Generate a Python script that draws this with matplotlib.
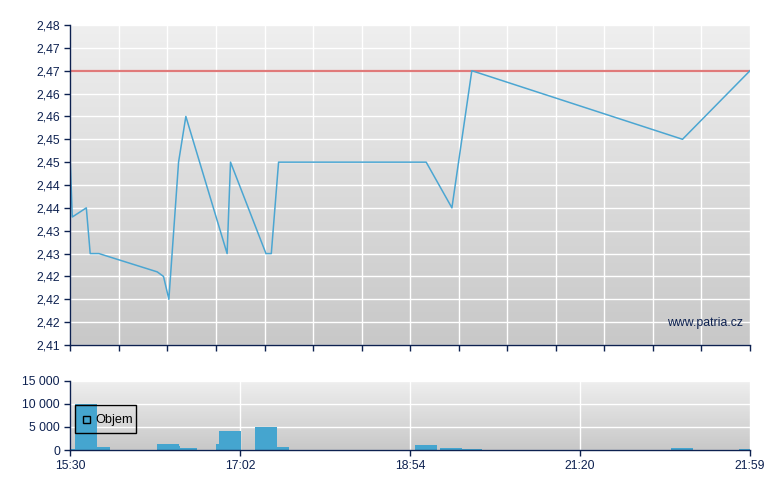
import numpy as np
import matplotlib
matplotlib.use("Agg")
import matplotlib.pyplot as plt
from matplotlib.colors import LinearSegmentedColormap
from matplotlib.patches import Rectangle

# ---- data ----
# x positions on the (trade-indexed) session axis, 0 = 15:30, 14 = 21:59
price_pos = [0.0, 0.041, 0.33, 0.41, 0.59, 1.79, 1.92, 2.03, 2.23, 2.38,
             3.23, 3.30, 4.03, 4.14, 4.29, 7.33, 7.86, 8.27, 12.61, 14.0]
price = [2.45, 2.438, 2.44, 2.43, 2.43, 2.426, 2.425, 2.42, 2.45, 2.46,
         2.43, 2.45, 2.43, 2.43, 2.45, 2.45, 2.44, 2.47, 2.455, 2.47]
prev_close = 2.47

vol_start = [0.0, 0.097, 0.544, 1.786, 2.239, 2.26, 2.997, 3.06, 3.804, 4.258,
             7.10, 7.615, 8.068, 12.373, 13.77]
vol_end = [0.097, 0.544, 0.818, 2.239, 2.26, 2.61, 3.06, 3.516, 4.258, 4.505,
           7.553, 8.068, 8.48, 12.826, 14.0]
volume = [200, 10000, 650, 1350, 870, 430, 1350, 4100, 5000, 650,
          1100, 430, 220, 430, 220]

price_ticks = [2.41, 2.415, 2.42, 2.425, 2.43, 2.435, 2.44, 2.445, 2.45,
               2.455, 2.46, 2.465, 2.47, 2.475, 2.48]
price_tick_labels = ["2,41", "2,42", "2,42", "2,42", "2,43", "2,43", "2,44", "2,44",
                     "2,45", "2,45", "2,46", "2,46", "2,47", "2,47", "2,48"]
vol_ticks = [0, 5000, 10000, 15000]
vol_tick_labels = ["0", "5 000", "10 000", "15 000"]
time_ticks = [0, 3.5, 7, 10.5, 14]
time_labels = ["15:30", "17:02", "18:54", "21:20", "21:59"]

# ---- style ----
navy = "#0d2150"
line_c = "#4ba6d2"
bar_c = "#45a5cf"
red_c = "#e07a7a"
plt.rcParams['font.family'] = ['Liberation Sans', 'DejaVu Sans']
fs = 8.8

fig = plt.figure(figsize=(7.8, 4.9), dpi=100)
ax1 = fig.add_axes([70.3/780, 1-345/490, (750-70.3)/780, 320/490])
ax2 = fig.add_axes([70.3/780, 1-450/490, (750-70.3)/780, (450-380.7)/490])

grad = np.linspace(0, 1, 256).reshape(-1, 1)
cmap = LinearSegmentedColormap.from_list("bg", ["#efefef", "#c8c8c8"])

for ax in (ax1, ax2):
    ax.imshow(grad, aspect='auto', cmap=cmap, extent=[0, 1, 0, 1],
              transform=ax.transAxes, zorder=0)
    for s in ("top", "right"):
        ax.spines[s].set_visible(False)
    for s in ("left", "bottom"):
        ax.spines[s].set_color(navy)
        ax.spines[s].set_linewidth(1.0)
        ax.spines[s].set_zorder(5)
    ax.tick_params(colors=navy, labelcolor=navy, labelsize=fs, length=4,
                   width=1, direction='out')
    ax.set_xlim(0, 14)

# upper panel
ax1.set_ylim(2.41, 2.48)
ax1.set_yticks(price_ticks)
ax1.set_yticklabels(price_tick_labels)
ax1.set_xticks(np.arange(0, 15, 1))
ax1.set_xticklabels([])
ax1.grid(True, color="white", linewidth=1.0, zorder=1)
ax1.set_axisbelow(True)
ax1.axhline(prev_close, color=red_c, linewidth=1.6, zorder=3)
ax1.plot(price_pos, price, color=line_c, linewidth=1.1, zorder=4)
ax1.text(0.99, 0.07, "www.patria.cz", transform=ax1.transAxes, ha='right',
         va='center', color=navy, fontsize=fs, zorder=6)

# lower panel
ax2.set_ylim(0, 15000)
ax2.set_yticks(vol_ticks)
ax2.set_yticklabels(vol_tick_labels)
ax2.set_xticks(time_ticks)
ax2.set_xticklabels(time_labels)
ax2.grid(True, color="white", linewidth=1.0, zorder=1)
ax2.set_axisbelow(True)
widths = [e - s for s, e in zip(vol_start, vol_end)]
ax2.bar(vol_start, volume, width=widths, align='edge', color=bar_c,
        linewidth=0, zorder=3)

# legend box
ax2.add_patch(Rectangle((75.3/780, 1-433.3/490), (135.7-75.3)/780, (433.3-405.3)/490,
                        transform=fig.transFigure, fill=False, edgecolor='black',
                        linewidth=1.0, zorder=7))
ax2.add_patch(Rectangle((83.3/780, 1-422.7/490), 7/780, 7/490,
                        transform=fig.transFigure, fill=False, edgecolor='black',
                        linewidth=1.0, zorder=7))
fig.text(95/780, 1-420/490, "Objem", ha='left', va='center', color='black',
         fontsize=9.2, zorder=8)

fig.savefig("out.png", dpi=100)
